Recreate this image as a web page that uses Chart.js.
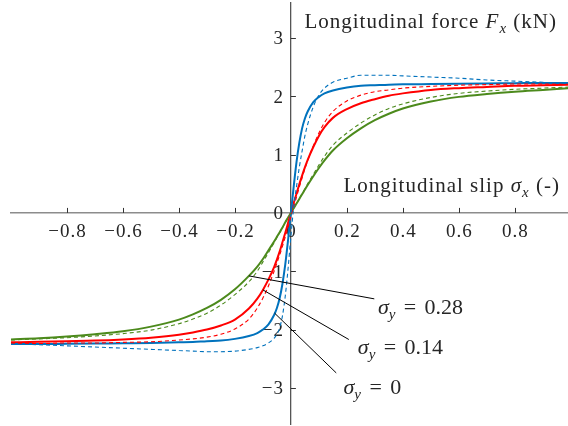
<!DOCTYPE html>
<html lang="en">
<head>
<meta charset="UTF-8">
<title>Longitudinal force vs slip</title>
<script src="https://cdn.jsdelivr.net/npm/chart.js"></script>
<style>
  html, body { margin: 0; padding: 0; background: #fff; }
</style>
</head>
<body>
<canvas id="fxChart" width="568" height="426"></canvas>
<script>
// longitudinal slip samples (-), shared by every curve
const slip = [-1, -0.9, -0.8, -0.7, -0.6, -0.5, -0.4, -0.35, -0.3, -0.25, -0.2, -0.15, -0.12, -0.1, -0.08, -0.06, -0.05, -0.04, -0.03, -0.02, -0.01,
  0, 0.01, 0.02, 0.03, 0.04, 0.05, 0.06, 0.08, 0.1, 0.12, 0.15, 0.2, 0.25, 0.3, 0.35, 0.4, 0.5, 0.6, 0.7, 0.8, 0.9, 1];

// Fx (kN), solid = model, dashed = reference, one pair per lateral slip
const fxSy0 = [-2.25, -2.25, -2.245, -2.24, -2.235, -2.23, -2.22, -2.215, -2.2, -2.19, -2.16, -2.11, -2.06, -2.0, -1.91, -1.75, -1.63, -1.46, -1.21, -0.88, -0.46,
  0, 0.45, 0.87, 1.2, 1.45, 1.62, 1.74, 1.9, 1.99, 2.05, 2.1, 2.15, 2.18, 2.19, 2.2, 2.205, 2.21, 2.215, 2.22, 2.225, 2.23, 2.23];
const fxSy0Dash = [-2.25, -2.26, -2.28, -2.3, -2.32, -2.34, -2.36, -2.37, -2.38, -2.38, -2.37, -2.34, -2.31, -2.28, -2.23, -2.15, -2.08, -1.97, -1.76, -1.42, -0.95,
  -0.4, 0.1, 0.45, 0.78, 1.06, 1.32, 1.52, 1.82, 2.02, 2.14, 2.24, 2.31, 2.36, 2.36, 2.36, 2.35, 2.33, 2.31, 2.28, 2.26, 2.24, 2.22];
const fxSy14 = [-2.22, -2.21, -2.2, -2.19, -2.17, -2.14, -2.09, -2.05, -2.0, -1.93, -1.83, -1.64, -1.47, -1.32, -1.14, -0.93, -0.8, -0.66, -0.5, -0.34, -0.17,
  0, 0.17, 0.33, 0.49, 0.64, 0.78, 0.91, 1.13, 1.32, 1.47, 1.63, 1.78, 1.88, 1.95, 2.01, 2.05, 2.11, 2.14, 2.16, 2.18, 2.19, 2.2];
const fxSy14Dash = [-2.24, -2.24, -2.23, -2.23, -2.22, -2.21, -2.18, -2.16, -2.13, -2.08, -1.99, -1.82, -1.63, -1.46, -1.25, -1.0, -0.86, -0.72, -0.57, -0.41, -0.24,
  -0.06, 0.1, 0.27, 0.44, 0.6, 0.76, 0.9, 1.15, 1.37, 1.55, 1.74, 1.92, 2.02, 2.08, 2.11, 2.14, 2.17, 2.19, 2.2, 2.21, 2.21, 2.21];
const fxSy28 = [-2.17, -2.15, -2.12, -2.08, -2.03, -1.95, -1.83, -1.74, -1.63, -1.49, -1.31, -1.08, -0.92, -0.79, -0.64, -0.49, -0.41, -0.33, -0.25, -0.16, -0.08,
  0, 0.08, 0.16, 0.24, 0.32, 0.4, 0.48, 0.63, 0.77, 0.9, 1.07, 1.28, 1.45, 1.59, 1.7, 1.79, 1.91, 1.99, 2.04, 2.08, 2.11, 2.14];
const fxSy28Dash = [-2.18, -2.16, -2.14, -2.11, -2.07, -2.01, -1.9, -1.82, -1.72, -1.58, -1.4, -1.18, -1.0, -0.84, -0.68, -0.51, -0.42, -0.34, -0.25, -0.16, -0.08,
  0, 0.08, 0.16, 0.24, 0.33, 0.41, 0.5, 0.66, 0.82, 0.97, 1.16, 1.37, 1.54, 1.68, 1.79, 1.87, 1.98, 2.05, 2.09, 2.12, 2.14, 2.16];

// tick values
const xTicks = [-0.8, -0.6, -0.4, -0.2, 0, 0.2, 0.4, 0.6, 0.8];
const yTicks = [-3, -2, -1, 0, 1, 2, 3];

// callout labels: text, point on curve, end of leader, text anchor (data units)
const calloutText = ['0.28', '0.14', '0'];
const calloutFromX = [-0.15, -0.1, -0.058];
const calloutFromY = [-1.08, -1.32, -1.72];
const calloutToX = [0.298, 0.207, 0.162];
const calloutToY = [-1.474, -2.171, -2.744];
const calloutTextX = [0.311, 0.239, 0.188];
const calloutTextY = [-1.73, -2.415, -3.1];

const SERIF = '"Liberation Serif", "Times New Roman", serif';
const BLUE = '#0072bd', RED = '#ff0000', GREEN = '#4c8a1c';

function fmt(v) {
    return v < 0 ? '\u2212' + String(-v) : String(v);
}

// draws a run of [text, kind] pieces; kind r = roman, i = italic, s = italic subscript, g = gap in em
function drawMath(ctx, parts, x, y, size, align, spacing) {
    const fontOf = k => (k === 'r' ? '' : 'italic ') + (k === 's' ? Math.round(size * 0.7) : size) + 'px ' + SERIF;
    ctx.letterSpacing = (spacing || 0) + 'px';
    const widths = parts.map(p => {
        if (p[1] === 'g') return p[0] * size;
        ctx.font = fontOf(p[1]);
        return ctx.measureText(p[0]).width;
    });
    let cx = align === 'right' ? x - widths.reduce((a, b) => a + b, 0) : x;
    parts.forEach((p, i) => {
        if (p[1] !== 'g') {
            ctx.font = fontOf(p[1]);
            ctx.fillText(p[0], cx, p[1] === 's' ? y + size * 0.22 : y);
        }
        cx += widths[i];
    });
    ctx.letterSpacing = '0px';
}

const decor = {
    id: 'decor',
    beforeDatasetsDraw(chart) {
        const { ctx, scales: { x, y } } = chart;
        const x0 = x.getPixelForValue(0), y0 = y.getPixelForValue(0);
        ctx.save();
        ctx.strokeStyle = '#333';
        ctx.lineWidth = 1;
        xTicks.forEach(v => {
            if (v === 0) return;
            const px = Math.round(x.getPixelForValue(v)) + 0.5;
            ctx.beginPath(); ctx.moveTo(px, y0); ctx.lineTo(px, y0 - 5); ctx.stroke();
        });
        yTicks.forEach(v => {
            if (v === 0) return;
            const py = Math.round(y.getPixelForValue(v)) + 0.5;
            ctx.beginPath(); ctx.moveTo(x0, py); ctx.lineTo(x0 + 5, py); ctx.stroke();
        });
        ctx.fillStyle = '#262626';
        ctx.font = '19px ' + SERIF;
        ctx.letterSpacing = '1px';
        ctx.textBaseline = 'alphabetic';
        ctx.textAlign = 'center';
        xTicks.forEach(v => ctx.fillText(fmt(v), x.getPixelForValue(v) + 0.5, y0 + 24));
        ctx.textAlign = 'right';
        yTicks.forEach(v => ctx.fillText(fmt(v), x0 - 7, y.getPixelForValue(v) + 6.5));
        ctx.restore();
    },
    afterDatasetsDraw(chart) {
        const { ctx, chartArea, scales: { x, y } } = chart;
        ctx.save();
        ctx.fillStyle = '#262626';
        ctx.textAlign = 'left';
        ctx.textBaseline = 'alphabetic';
        drawMath(ctx, [['Longitudinal force ', 'r'], ['F', 'i'], ['x', 's'], [0.3, 'g'], ['(kN)', 'r']], chartArea.right - 11, 28, 21, 'right', 1);
        drawMath(ctx, [['Longitudinal slip ', 'r'], ['\u03c3', 'i'], ['x', 's'], [0.3, 'g'], ['(-)', 'r']], chartArea.right - 8, 192, 21, 'right', 1);

        ctx.strokeStyle = '#000';
        ctx.lineWidth = 1;
        calloutText.forEach((t, i) => {
            ctx.beginPath();
            ctx.moveTo(x.getPixelForValue(calloutFromX[i]), y.getPixelForValue(calloutFromY[i]));
            ctx.lineTo(x.getPixelForValue(calloutToX[i]), y.getPixelForValue(calloutToY[i]));
            ctx.stroke();
            drawMath(ctx, [['\u03c3', 'i'], ['y', 's'], [0.38, 'g'], ['=', 'r'], [0.38, 'g'], [t, 'r']],
                x.getPixelForValue(calloutTextX[i]), y.getPixelForValue(calloutTextY[i]), 22, 'left', 0);
        });
        ctx.restore();
    }
};

function series(values, color, dashed) {
    return {
        data: slip.map((s, i) => ({ x: s, y: values[i] })),
        borderColor: color,
        borderWidth: dashed ? 1.1 : 2,
        borderDash: dashed ? [4, 3] : [],
        pointRadius: 0,
        fill: false,
        cubicInterpolationMode: 'monotone'
    };
}

const ctx = document.getElementById('fxChart').getContext('2d');
new Chart(ctx, {
    type: 'line',
    data: {
        datasets: [
            series(fxSy0Dash, BLUE, true),
            series(fxSy14Dash, RED, true),
            series(fxSy28Dash, GREEN, true),
            series(fxSy0, BLUE, false),
            series(fxSy14, RED, false),
            series(fxSy28, GREEN, false)
        ]
    },
    options: {
        responsive: false,
        animation: false,
        layout: { padding: { left: 11, right: 0, top: 3, bottom: 2 } },
        plugins: { legend: { display: false }, tooltip: { enabled: false } },
        scales: {
            x: {
                type: 'linear',
                min: -1,
                max: 0.99,
                position: { y: 0 },
                ticks: { display: false },
                grid: { display: true, drawOnChartArea: false, drawTicks: false, color: 'rgba(0,0,0,0)' },
                border: { display: true, color: '#8c8c8c', width: 1.6 }
            },
            y: {
                type: 'linear',
                min: -3.62,
                max: 3.6,
                position: { x: 0 },
                ticks: { display: false },
                grid: { display: true, drawOnChartArea: false, drawTicks: false, color: 'rgba(0,0,0,0)' },
                border: { display: true, color: '#555', width: 1.3 }
            }
        }
    },
    plugins: [decor]
});
</script>
</body>
</html>
